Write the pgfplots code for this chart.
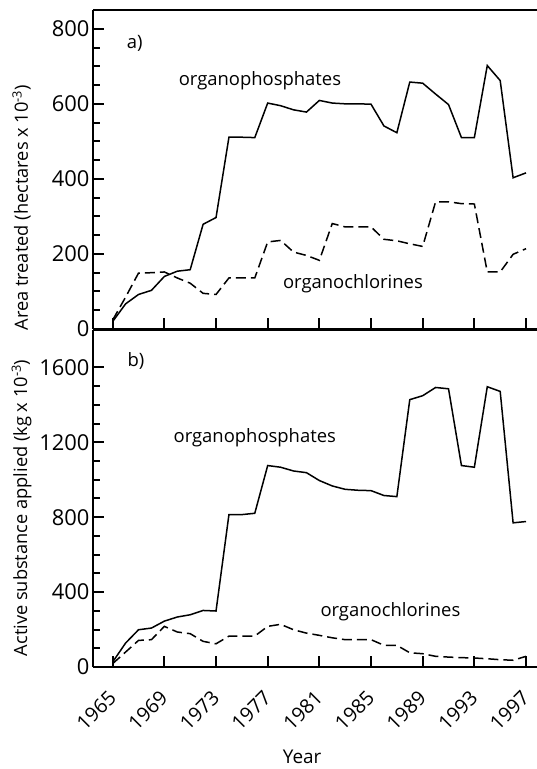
\documentclass[border=0pt]{standalone}
\usepackage{fontspec}
\setmainfont{Open Sans}
\usepackage{pgfplots}
\pgfplotsset{compat=1.18}

\pgfplotsset{
  panel/.style={
    scale only axis, width=444bp,
    xmin=1963.475, xmax=1997.85, ymin=0,
    axis x line*=box, axis y line*=left,
    axis line style={line width=2.5bp},
    tick pos=left, tick align=inside,
    xtick={1965,1969,...,1997}, minor x tick num=3,
    minor y tick num=3,
    major tick length=11bp, minor tick length=7bp,
    every tick/.style={black, line width=2bp},
    /pgf/number format/assume math mode=true,
    /pgf/number format/set thousands separator={},
    yticklabel style={font=\fontsize{22}{24}\selectfont},
    xticklabel style={font=\fontsize{20}{22}\selectfont},
    ylabel style={font=\fontsize{18.3}{20}\selectfont, anchor=center},
    xlabel style={font=\fontsize{19}{21}\selectfont},
    clip=false,
  },
  op/.style={black, line width=1.5bp},
  oc/.style={black, line width=1.5bp, dash pattern=on 10bp off 5bp},
}
\tikzset{lbl/.style={font=\fontsize{18.5}{21}\selectfont}}

\begin{document}
\begin{tikzpicture}
% a) area treated
\begin{axis}[panel, at={(0,338bp)}, height=319bp, ymax=850,
  ytick={0,200,...,800}, xticklabels={},
  ylabel={Area treated (hectares x 10\textsuperscript{-3})},
  ylabel style={at={(axis description cs:0,0.38)}, yshift=71.5bp}]
\addplot[op] coordinates {
  (1965,20) (1966,67) (1967,92) (1968,103) (1969,140) (1970,154) (1971,158)
  (1972,279) (1973,297) (1974,511) (1975,511) (1976,510) (1977,602) (1978,595)
  (1979,584) (1980,578) (1981,609) (1982,602) (1983,600) (1984,600) (1985,599)
  (1986,541) (1987,523) (1988,658) (1989,655) (1990,626) (1991,598) (1992,510)
  (1993,510) (1994,702) (1995,662) (1996,403) (1997,416)
};
\addplot[oc] coordinates {
  (1965,24) (1966,85) (1967,149) (1968,150) (1969,152) (1970,136) (1971,122)
  (1972,95) (1973,92) (1974,136) (1975,136) (1976,136) (1977,232) (1978,236)
  (1979,205) (1980,196) (1981,183) (1982,281) (1983,272) (1984,272) (1985,272)
  (1986,239) (1987,235) (1988,227) (1989,220) (1990,339) (1991,339) (1992,334)
  (1993,333) (1994,152) (1995,152) (1996,199) (1997,214)
};
\node[lbl] at (axis cs:1966.7,762) {a)};
\node[lbl] at (axis cs:1976.4,661) {organophosphates};
\node[lbl] at (axis cs:1983.6,120) {organochlorines};
\end{axis}
% b) active substance applied
\begin{axis}[panel, at={(0,0)}, height=337bp, ymax=1800,
  ytick={0,400,...,1600},
  xticklabel style={rotate=45, anchor=east, xshift=-16bp, yshift=-19bp},
  xlabel={Year},
  xlabel style={at={(axis description cs:0.471,0)}, anchor=center, yshift=-90bp},
  ylabel={Active substance applied (kg x 10\textsuperscript{-3})},
  ylabel style={at={(axis description cs:0,0.472)}, yshift=71.5bp}]
\addplot[op] coordinates {
  (1965,27) (1966,128) (1967,199) (1968,208) (1969,245) (1970,267) (1971,279)
  (1972,302) (1973,299) (1974,814) (1975,814) (1976,821) (1977,1076) (1978,1067)
  (1979,1047) (1980,1038) (1981,996) (1982,967) (1983,949) (1984,944) (1985,942)
  (1986,916) (1987,910) (1988,1428) (1989,1449) (1990,1493) (1991,1486) (1992,1076)
  (1993,1067) (1994,1497) (1995,1472) (1996,770) (1997,777)
};
\addplot[oc] coordinates {
  (1965,18) (1966,80) (1967,142) (1968,146) (1969,217) (1970,187) (1971,178)
  (1972,137) (1973,124) (1974,165) (1975,165) (1976,165) (1977,217) (1978,228)
  (1979,199) (1980,181) (1981,169) (1982,156) (1983,146) (1984,146) (1985,146)
  (1986,116) (1987,116) (1988,76) (1989,71) (1990,57) (1991,53) (1992,50)
  (1993,48) (1994,44) (1995,39) (1996,36) (1997,57)
};
\node[lbl] at (axis cs:1976.0,1227) {organophosphates};
\node[lbl] at (axis cs:1986.5,293) {organochlorines};
\node[lbl] at (axis cs:1966.8,1637) {b)};
\end{axis}
\pgfresetboundingbox
\path (-93bp,-102bp) rectangle (444bp,667bp);
\end{tikzpicture}
\end{document}
